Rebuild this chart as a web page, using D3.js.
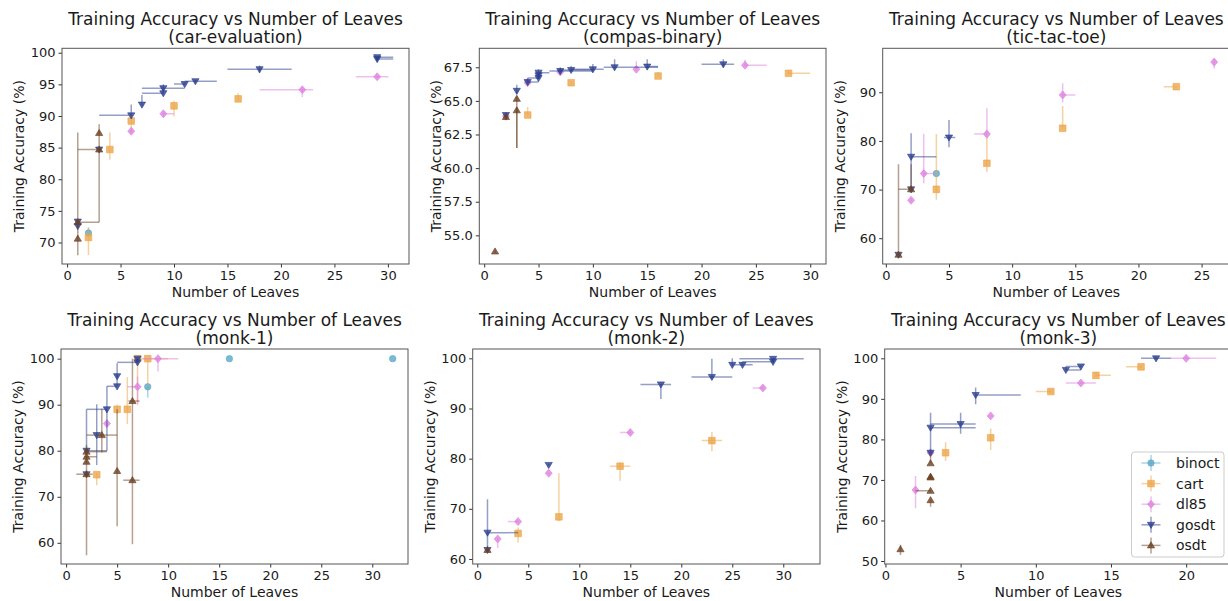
<!DOCTYPE html>
<html><head><meta charset="utf-8">
<script src="https://cdn.jsdelivr.net/npm/d3@7"></script>
<style>body{margin:0;background:#fff}svg{display:block;font-family:"DejaVu Sans",sans-serif}</style>
</head><body><svg id="c" width="1228" height="601"></svg>
<script>
const algs = ["binoct","cart","dl85","gosdt","osdt"];
const algColors = ["#5aa9c9","#eca64a","#de82e0","#2b3f8e","#6b4123"];
const xTicks = [0,5,10,15,20,25,30];
// rows: [algorithm, leaves, accuracy, xLow, xHigh, yLow, yHigh]
const carEvaluation = [
 ["binoct",2,71.5,2,2,71.0,72.4],
 ["cart",2,70.8,2,2,68.0,72.3],["cart",4,84.7,4,4,83.1,87.4],["cart",6,89.2,6,6,87.5,90.0],["cart",10,91.6,10,10,89.9,92.4],["cart",16,92.7,16,16,92.3,93.6],
 ["dl85",6,87.6,6,6,87.3,88.0],["dl85",9,90.35,9,10,89.8,90.7],["dl85",22,94.15,18,23,93.0,94.4],["dl85",29,96.2,27,30.05,96.0,96.4],
 ["gosdt",1,73.3,1,1,73.0,73.5],["gosdt",1,72.6,1,1,72.3,72.8],["gosdt",3,84.7,3,3,84.7,84.7],["gosdt",6,90.1,3,6,90.0,91.8],["gosdt",7,91.8,7,7,91.6,93.3],["gosdt",9,94.4,7,11,93.8,95.0],["gosdt",9,93.6,7,9,93.4,93.8],["gosdt",11,95.05,10,11,94.9,95.3],["gosdt",12,95.5,11,14,95.3,95.7],["gosdt",18,97.4,15,21,96.8,98.0],["gosdt",29,99.0,29,30.5,98.8,99.3],["gosdt",29,99.3,29,30.5,99.2,99.4],
 ["osdt",1,70.6,1,1,68.0,87.4],["osdt",1,73.2,1,3,73.2,73.2],["osdt",3,84.7,1,3,84.7,84.7],["osdt",3,87.3,3,3,73.2,88.7]
];
const compasBinary = [
 ["cart",4,63.95,4,4,63.9,64.55],["cart",8,66.35,8,8,66.2,66.5],["cart",16,66.85,16,16,66.8,67.15],["cart",28,67.05,28,30,67.0,67.25],
 ["dl85",2,63.85,2,2,63.75,63.95],["dl85",4,66.35,4,4,66.3,66.45],["dl85",7,67.15,7,7,67.0,67.3],["dl85",14,67.35,14,14,67.25,67.95],["dl85",24,67.65,24,26,67.6,68.05],
 ["gosdt",2,63.95,2,2,63.95,64.0],["gosdt",3,65.75,3,3,65.5,66.2],["gosdt",4,66.4,4,5,66.35,66.7],["gosdt",5,66.7,4,5,66.65,66.8],["gosdt",5,66.9,5,5,66.85,67.0],["gosdt",5,67.1,5,6,67.05,67.35],["gosdt",7,67.22,6,10,67.1,67.5],["gosdt",8,67.3,7,10,67.2,67.6],["gosdt",10,67.35,8,11,67.2,67.75],["gosdt",12,67.5,11,16,67.35,68.1],["gosdt",15,67.55,15,16,67.45,68.1],["gosdt",22,67.72,20,23,67.55,68.1],
 ["osdt",1,53.8,1,1,53.7,53.9],["osdt",2,63.8,2,2,63.6,63.95],["osdt",3,65.15,3,3,61.5,65.3],["osdt",3,64.3,3,3,61.5,64.5]
];
const ticTacToe = [
 ["binoct",4,73.3,4,4,73.3,73.3],
 ["cart",4,70.05,4,4,67.9,81.4],["cart",8,75.4,8,8,73.6,81.4],["cart",14,82.6,14,14,82.6,87.2],["cart",23,91.15,22,23,91.0,91.3],
 ["dl85",2,67.8,2,2,67.5,68.2],["dl85",3,73.3,3,4,71.3,81.4],["dl85",8,81.4,7,8,81.4,86.7],["dl85",14,89.45,14,15,87.9,91.85],["dl85",26,96.2,26,26,94.9,97.0],
 ["gosdt",1,56.6,1,1,56.6,56.6],["gosdt",2,70.05,2,2,70.0,70.1],["gosdt",2,76.75,2,4,70.0,81.6],["gosdt",5,80.7,4.6,5.5,78.7,84.3],
 ["osdt",1,56.6,1,1,56.6,75.2],["osdt",2,70.05,1,2,70.0,75.2]
];
const monk1 = [
 ["binoct",8,93.9,8,8,91.5,94.2],["binoct",16,100,16,16,100,100],["binoct",32,100,32,32,100,100],
 ["cart",3,74.8,3,3,72.5,75.2],["cart",5,89.0,5,5,88.0,90.0],["cart",6,89.0,6,6,85.8,96.0],["cart",7,100,7,7,90.3,100],["cart",8,100,7,10,94.0,100],
 ["dl85",4,85.9,4,4,85.5,86.3],["dl85",7,93.9,6,7,89.9,96.1],["dl85",9,100,7.5,11,97.2,100],
 ["gosdt",2,74.9,2,2,74.7,75.1],["gosdt",2,80.0,2,4,80.0,89.0],["gosdt",3,83.4,3,3,76.9,90.1],["gosdt",4,89.0,2,4,80.0,94.0],["gosdt",5,94.0,4,5,94.0,99.0],["gosdt",5,96.2,5,5,96.0,96.4],["gosdt",7,99.2,5,7,99.0,99.5],["gosdt",7,100,7,7,99.5,100.3],
 ["osdt",2,74.9,1,2.6,57.3,81.2],["osdt",2,77.6,2,2,77.4,77.8],["osdt",2,78.7,1.8,3,78.5,78.9],["osdt",2,79.8,2,4,79.6,80.0],["osdt",3.5,83.4,2,5,79.6,89.1],["osdt",5,75.6,5,5,63.6,89.0],["osdt",6.5,90.8,6.1,7.2,88.0,100],["osdt",6.5,73.6,5.6,7.2,59.7,88.0]
];
const monk2 = [
 ["cart",4,65.1,4,4,63.3,66.3],["cart",8,68.4,8,8,67.5,77.1],["cart",14,78.5,13,15,75.6,79.3],["cart",23,83.6,22,24,81.5,85.3],
 ["dl85",2,64.0,2,2,62.2,64.3],["dl85",4,67.45,3,4,67.2,67.7],["dl85",7,77.1,7,7,76.9,77.4],["dl85",15,85.2,14,15,85.0,85.4],["dl85",28,94.1,27,28,93.8,94.4],
 ["gosdt",1,61.8,1,1,61.6,62.0],["gosdt",1,65.25,1,4,61.8,71.9],["gosdt",7,78.75,7,7,78.5,79.0],["gosdt",18,94.8,16,19,91.9,94.9],["gosdt",23,96.3,21,25,96.0,99.9],["gosdt",25,98.7,25,25,98.5,100],["gosdt",26,98.7,25,27,98.6,99.3],["gosdt",29,99.3,26,29,99.1,99.5],["gosdt",29,99.9,25.7,32,99.8,100],
 ["osdt",1,61.8,1,1,61.2,62.3]
];
const monk3 = [
 ["cart",4,76.7,4,4,74.7,79.3],["cart",7,80.4,7,7,77.4,82.7],["cart",11,91.8,10,11,91.3,92.3],["cart",14,95.8,14,15,95.3,96.5],["cart",17,97.9,16,17,97.6,98.3],
 ["dl85",2,67.5,2,2,63.0,71.0],["dl85",3,76.7,3,3,76.5,76.9],["dl85",7,85.8,7,7,85.5,86.1],["dl85",13,93.9,12,14,93.7,94.1],["dl85",20,100,19,22,99.8,100.2],
 ["gosdt",3,76.7,3,3,76.7,86.6],["gosdt",3,82.9,3,6,82.9,82.9],["gosdt",5,83.8,3,6,81.4,86.6],["gosdt",6,90.95,6,9,88.7,92.8],["gosdt",12,97.15,12,13,97.0,97.9],["gosdt",13,98.0,12,13,97.8,98.2],["gosdt",18,100,17,19,99.8,100.2],
 ["osdt",1,52.9,1,1,51.5,54.0],["osdt",3,74.1,3,3,74.1,76.7],["osdt",3,70.8,3,3,70.6,71.0],["osdt",3,70.6,3,3,70.4,70.8],["osdt",3,67.3,2,3,67.1,67.5],["osdt",3,65.0,3,3,63.4,65.2]
];
const panels = [
 {name:"car-evaluation", data:carEvaluation, x0:62, x1:409, y0:48.3, y1:264, xd:[-0.475,31.975], yd:[66.6,100.7], yt:[70,75,80,85,90,95,100], fmt:d3.format("d")},
 {name:"compas-binary", data:compasBinary, x0:479.3, x1:826, y0:48.3, y1:264, xd:[-0.45,31.45], yd:[52.87,68.91], yt:[55,57.5,60,62.5,65,67.5], fmt:d3.format(".1f")},
 {name:"tic-tac-toe", data:ticTacToe, x0:882.7, x1:1230, y0:48.3, y1:264, xd:[-0.25,27.25], yd:[54.7,99.04], yt:[60,70,80,90], fmt:d3.format("d")},
 {name:"monk-1", data:monk1, x0:61, x1:408, y0:349, y1:564, xd:[-0.5,33.5], yd:[55.4,102.1], yt:[60,70,80,90,100], fmt:d3.format("d")},
 {name:"monk-2", data:monk2, x0:472.7, x1:820, y0:349, y1:564, xd:[-0.45,33.6], yd:[59.0,101.86], yt:[60,70,80,90,100], fmt:d3.format("d")},
 {name:"monk-3", data:monk3, x0:884.7, x1:1232, y0:349, y1:564, xd:[-0.05,23.05], yd:[49.26,102.3], yt:[50,60,70,80,90,100], fmt:d3.format("d")}
];
const svg = d3.select("#c");
const color = d3.scaleOrdinal(algs, algColors);
function markerPath(a){
  switch(a){
    case "binoct": return "M3.2,0A3.2,3.2 0 1,1 -3.2,0A3.2,3.2 0 1,1 3.2,0Z";
    case "cart": return "M-3.3,-3.3H3.3V3.3H-3.3Z";
    case "dl85": return "M0,-4L3.5,0L0,4L-3.5,0Z";
    case "gosdt": return "M-3.6,-2.5L3.6,-2.5L0,3.6Z";
    default: return "M-3.6,2.5L3.6,2.5L0,-3.6Z";
  }
}
panels.forEach(p=>{
  const x = d3.scaleLinear().domain(p.xd).range([p.x0,p.x1]);
  const y = d3.scaleLinear().domain(p.yd).range([p.y1,p.y0]);
  const g = svg.append("g");
  const clipId = "clip-"+p.name;
  svg.append("clipPath").attr("id",clipId).append("rect").attr("x",p.x0).attr("y",p.y0).attr("width",p.x1-p.x0).attr("height",p.y1-p.y0);
  const plot = g.append("g").attr("clip-path",`url(#${clipId})`);
  algs.forEach(a=>{
    const rows = p.data.filter(r=>r[0]===a);
    const eg = plot.append("g").attr("stroke",color(a)).attr("stroke-width",1.5).attr("stroke-opacity",0.5);
    rows.forEach(r=>{
      if(r[4]>r[3]) eg.append("line").attr("x1",x(r[3])).attr("x2",x(r[4])).attr("y1",y(r[2])).attr("y2",y(r[2]));
      if(r[6]>r[5]) eg.append("line").attr("x1",x(r[1])).attr("x2",x(r[1])).attr("y1",y(r[5])).attr("y2",y(r[6]));
    });
    plot.append("g").selectAll("path").data(rows).join("path")
      .attr("d",markerPath(a)).attr("transform",r=>`translate(${x(r[1])},${y(r[2])})`)
      .attr("fill",color(a)).attr("fill-opacity",0.8).attr("stroke",color(a)).attr("stroke-opacity",0.8).attr("stroke-width",0.8);
  });
  const xa = g.append("g").attr("transform",`translate(0,${p.y1})`)
    .call(d3.axisBottom(x).tickValues(xTicks.filter(t=>t>=p.xd[0]&&t<=p.xd[1])).tickSize(3.5).tickPadding(3).tickFormat(d3.format("d")));
  const ya = g.append("g").attr("transform",`translate(${p.x0},0)`)
    .call(d3.axisLeft(y).tickValues(p.yt).tickSize(3.5).tickPadding(3).tickFormat(p.fmt));
  [xa,ya].forEach(ax=>{
    ax.select(".domain").remove();
    ax.selectAll("text").attr("font-size",13).attr("fill","#1a1a1a").attr("font-family","DejaVu Sans");
    ax.selectAll("line").attr("stroke","#333");
  });
  g.append("rect").attr("x",p.x0).attr("y",p.y0).attr("width",p.x1-p.x0).attr("height",p.y1-p.y0)
    .attr("fill","none").attr("stroke","#555").attr("stroke-width",1);
  const cxa=(p.x0+p.x1)/2;
  g.append("text").attr("x",cxa).attr("y",p.y0-23).attr("text-anchor","middle").attr("font-size",17).attr("fill","#1a1a1a").text("Training Accuracy vs Number of Leaves");
  g.append("text").attr("x",cxa).attr("y",p.y0-5).attr("text-anchor","middle").attr("font-size",17).attr("fill","#1a1a1a").text(`(${p.name})`);
  g.append("text").attr("x",cxa).attr("y",p.y1+33).attr("text-anchor","middle").attr("font-size",14).attr("fill","#1a1a1a").text("Number of Leaves");
  g.append("text").attr("transform",`translate(${p.x0-38},${(p.y0+p.y1)/2}) rotate(-90)`).attr("text-anchor","middle").attr("font-size",14).attr("fill","#1a1a1a").text("Training Accuracy (%)");
});
const lg = svg.append("g").attr("transform","translate(1131.5,452)");
lg.append("rect").attr("width",92.5).attr("height",105).attr("rx",3).attr("fill","#fff").attr("fill-opacity",0.85).attr("stroke","#ccc");
algs.forEach((a,i)=>{
  const yy = 11 + i*20.6;
  const e = lg.append("g").attr("stroke",color(a)).attr("stroke-width",1.5).attr("stroke-opacity",0.5);
  e.append("line").attr("x1",10).attr("x2",29).attr("y1",yy).attr("y2",yy);
  e.append("line").attr("x1",19.5).attr("x2",19.5).attr("y1",yy-8).attr("y2",yy+8);
  lg.append("path").attr("d",markerPath(a)).attr("transform",`translate(19.5,${yy})`).attr("fill",color(a)).attr("fill-opacity",0.8).attr("stroke",color(a)).attr("stroke-opacity",0.8).attr("stroke-width",0.8);
  lg.append("text").attr("x",44.5).attr("y",yy+5).attr("font-size",14).attr("fill","#1a1a1a").text(a);
});
</script></body></html>
